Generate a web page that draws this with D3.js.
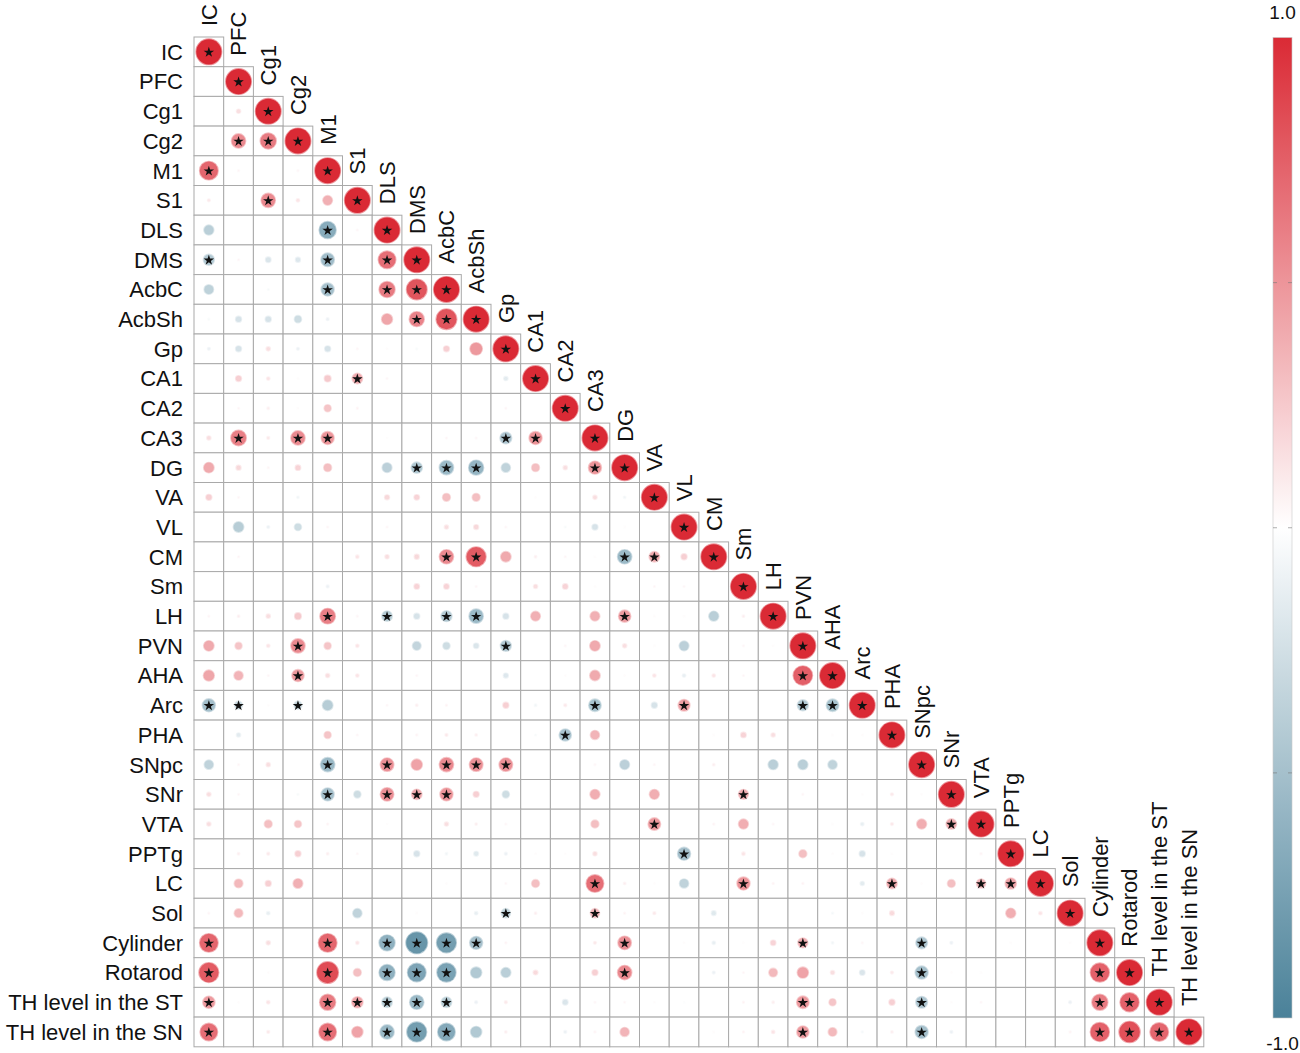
<!DOCTYPE html>
<html>
<head>
<meta charset="utf-8">
<script src="https://cdn.jsdelivr.net/npm/d3@7"></script>
<style>
  body { margin: 0; background: #fff; }
  text { font-family: "Liberation Sans", Arial, sans-serif; fill: #111; }
</style>
</head>
<body>
<div id="chart"></div>
<script>
const variables = ["IC", "PFC", "Cg1", "Cg2", "M1", "S1", "DLS", "DMS", "AcbC", "AcbSh",
  "Gp", "CA1", "CA2", "CA3", "DG", "VA", "VL", "CM", "Sm", "LH", "PVN", "AHA", "Arc",
  "PHA", "SNpc", "SNr", "VTA", "PPTg", "LC", "Sol", "Cylinder", "Rotarod",
  "TH level in the ST", "TH level in the SN"];

// lower triangle, row i holds r with columns 0..i-1 (diagonal is 1)
const corrRows = [
  [],
  [0],
  [0, 0.15],
  [0, 0.55, 0.62],
  [0.72, 0.05, 0, 0.05],
  [0.1, 0, 0.55, 0.12, 0.37],
  [-0.38, 0, 0, 0, -0.66, 0.05],
  [-0.42, 0.05, -0.2, -0.18, -0.52, 0, 0.68],
  [-0.36, 0, -0.05, 0, -0.5, 0, 0.62, 0.8],
  [-0.05, -0.22, -0.22, -0.27, -0.1, 0, 0.42, 0.58, 0.8],
  [-0.1, -0.22, 0.15, -0.1, -0.22, 0.05, 0.03, -0.05, 0.22, 0.48],
  [0, 0.22, 0.12, 0.03, 0.25, 0.4, 0.05, 0, 0, 0, -0.15],
  [0, 0.05, 0.08, 0.03, 0.27, 0.06, 0, 0, 0, 0, 0.05, 0],
  [0.15, 0.6, 0.1, 0.55, 0.5, 0, 0.03, 0, 0.05, 0.05, -0.45, 0.5, 0],
  [0.4, 0.18, 0.05, 0.2, 0.3, 0, -0.37, -0.43, -0.55, -0.58, -0.35, 0.3, 0.15, 0.5],
  [0.22, 0.05, 0, -0.08, 0, 0, 0.18, 0.2, 0.3, 0.3, 0, 0.03, 0, 0.15, -0.08],
  [0, -0.4, -0.1, -0.27, 0.05, 0, 0.05, 0, 0.15, 0.18, 0.05, 0, -0.05, -0.22, 0.03, 0],
  [0, 0.05, 0, 0, 0, 0.12, 0.15, 0.18, 0.55, 0.77, 0.4, 0.08, 0.05, 0.03, -0.55, 0.4, 0.22],
  [0, 0, 0, 0, -0.1, 0, 0, 0.2, 0.2, 0.05, 0, 0.15, 0.2, 0.03, 0, 0.05, 0.05, 0],
  [0.05, 0.08, 0.15, 0.25, 0.6, 0.05, -0.4, -0.22, -0.42, -0.55, -0.22, 0.37, 0, 0.37, 0.47, 0.03, 0.03, -0.38, 0.08],
  [0.4, 0.27, 0.12, 0.55, 0.27, 0.12, 0, -0.33, -0.27, -0.2, -0.42, 0, 0.05, 0.4, 0.15, 0.03, -0.37, 0, 0.05, 0.03],
  [0.42, 0.35, 0.05, 0.47, 0.15, 0.12, 0, 0.05, 0, 0, -0.18, 0, 0.03, 0.4, 0.03, 0.12, -0.12, 0.12, 0.05, 0, 0.75],
  [-0.5, -0.3, 0.03, -0.3, -0.4, 0, 0.05, 0.08, 0.06, 0, 0.22, -0.08, 0.1, -0.48, 0, -0.22, 0.45, 0, 0, 0, -0.42, -0.48],
  [0, -0.15, 0, 0, 0.27, 0.05, 0, 0.06, 0.1, 0.08, 0, -0.05, -0.47, 0.35, 0, 0, 0, 0.03, 0.2, 0.15, 0, 0.03, 0.03],
  [-0.35, 0.05, 0.15, 0, -0.55, 0, 0.52, 0.43, 0.55, 0.52, 0.52, 0, 0, 0.05, -0.37, 0.05, 0, 0.08, 0, -0.38, -0.38, -0.35, 0, 0],
  [0.15, 0.05, 0, -0.05, -0.5, -0.27, 0.52, 0.4, 0.5, 0.22, -0.27, 0, 0, 0.38, 0, 0.38, 0, 0, 0.38, 0, 0.05, 0, 0.03, 0.1, 0.03],
  [0.15, 0, 0.3, 0.27, 0.06, 0, 0.03, 0, 0.15, 0.08, 0.05, 0, 0, 0.3, 0, 0.48, 0, 0.06, 0.38, 0.05, 0, 0.03, -0.12, 0.1, 0.38, 0.4],
  [0, 0.08, 0.1, 0.22, 0.08, 0.05, 0, -0.22, -0.08, -0.17, -0.1, 0.03, 0.03, 0.15, 0, 0, -0.5, 0, 0.12, 0, 0.3, 0.03, -0.22, 0.03, 0, 0, 0.06],
  [0, 0.33, 0.22, 0.37, 0, 0, 0, 0, 0.03, 0, 0.05, 0.3, 0, 0.68, 0.08, 0.03, -0.35, 0, 0.5, 0.06, 0.06, 0, -0.15, 0.4, 0.03, 0.3, 0.35, 0.43],
  [0.05, 0.33, -0.12, 0, 0, -0.35, 0, 0.03, 0, -0.12, -0.35, 0.08, 0, 0.35, 0.06, 0.1, 0, -0.17, 0, 0, 0, -0.06, 0.03, 0.17, 0, 0, 0, 0.38, 0.12],
  [0.72, 0, 0.15, 0, 0.72, 0.12, -0.62, -0.84, -0.77, -0.5, 0.06, 0, 0, 0.1, 0.52, 0, 0.03, -0.12, 0.03, 0.2, 0.38, -0.08, 0.05, 0, -0.45, -0.1, 0, 0.03, 0, 0.03],
  [0.77, 0, 0.03, 0, 0.84, 0.3, -0.62, -0.72, -0.74, -0.43, -0.38, 0.17, 0, 0.22, 0.55, 0, 0, -0.1, 0.05, 0.33, 0.43, 0.15, -0.2, 0.1, -0.5, 0.03, 0.03, 0, 0, 0, 0.74],
  [0.47, 0.03, 0.12, 0, 0.62, 0.43, -0.4, -0.55, -0.4, -0.1, 0.1, 0, -0.2, 0.05, 0.05, 0.03, -0.03, 0, 0.06, 0.08, 0.48, 0.27, 0, 0.22, -0.45, 0.03, 0.05, 0, 0, -0.1, 0.62, 0.74],
  [0.68, 0, 0.1, 0, 0.68, 0.43, -0.55, -0.77, -0.68, -0.43, 0.08, 0, -0.1, 0.06, 0.35, 0, 0, 0.03, 0.06, 0.12, 0.47, 0.33, -0.06, 0.08, -0.5, -0.1, 0.03, 0, 0, 0.06, 0.74, 0.82, 0.72]
];

// columns with a significance star, per row (diagonal always starred)
const sigRows = [
  [], [], [], [1, 2], [0], [2], [4], [0, 4, 6], [4, 6, 7], [7, 8], [], [5], [],
  [1, 3, 4, 10, 11], [7, 8, 9, 13], [], [], [8, 9, 14, 15], [], [4, 6, 8, 9, 14],
  [3, 10], [3, 20], [0, 1, 3, 13, 16, 20, 21], [12], [4, 6, 8, 9, 10],
  [4, 6, 7, 8, 18], [15, 25], [16], [13, 18, 23, 26, 27], [10, 13],
  [0, 4, 6, 7, 8, 9, 14, 20, 24], [0, 4, 6, 7, 8, 14, 24, 30],
  [0, 4, 5, 6, 7, 8, 20, 24, 30, 31], [0, 4, 6, 7, 8, 20, 24, 30, 31, 32]
];

const legendTicks = [-1, -0.5, 0, 0.5, 1];
const legendLabels = [{ v: 1, label: "1.0" }, { v: -1, label: "-1.0" }];

const WIDTH = 1300, HEIGHT = 1053,
  GRID_LEFT = 194, GRID_TOP = 37, CELL = 29.7,
  MAX_R = 12.6, LABEL_GAP = 11, FONT = 22;

const svg = d3.select("#chart").append("svg")
  .attr("width", WIDTH).attr("height", HEIGHT);

const x = d3.scaleBand().domain(variables)
  .range([GRID_LEFT, GRID_LEFT + CELL * variables.length]);
const y = d3.scaleBand().domain(variables)
  .range([GRID_TOP, GRID_TOP + CELL * variables.length]);

const color = d3.scaleLinear()
  .domain([-1, 0, 1])
  .range(["#4a8199", "#ffffff", "#da2a35"])
  .interpolate(d3.interpolateRgb);

// flatten the triangle
const cells = [];
corrRows.forEach(function(row, i) {
  row.forEach(function(r, j) {
    cells.push({ row: variables[i], col: variables[j], r: r, sig: sigRows[i].includes(j) });
  });
  cells.push({ row: variables[i], col: variables[i], r: 1, sig: true });
});

const grid = svg.append("g");

grid.selectAll("rect")
  .data(cells)
  .enter()
  .append("rect")
  .attr("x", d => x(d.col))
  .attr("y", d => y(d.row))
  .attr("width", x.bandwidth())
  .attr("height", y.bandwidth())
  .attr("fill", "#fff")
  .attr("stroke", "#a9a9a9")
  .attr("stroke-width", 1);

grid.selectAll("circle")
  .data(cells.filter(d => Math.abs(d.r) > 0.001))
  .enter()
  .append("circle")
  .attr("cx", d => x(d.col) + x.bandwidth() / 2)
  .attr("cy", d => y(d.row) + y.bandwidth() / 2)
  .attr("r", d => Math.abs(d.r) * MAX_R)
  .attr("fill", d => color(d.r))
  .attr("stroke", d => color(d.r))
  .attr("stroke-opacity", 0.5)
  .attr("stroke-width", 1.8);

const star = d3.symbol().type(d3.symbolStar).size(34);
grid.selectAll("path.star")
  .data(cells.filter(d => d.sig))
  .enter()
  .append("path")
  .attr("class", "star")
  .attr("d", star)
  .attr("fill", "#111")
  .attr("transform", d =>
    "translate(" + (x(d.col) + x.bandwidth() / 2) + "," + (y(d.row) + y.bandwidth() / 2 + 0.5) + ")");

// row labels on the left
svg.append("g").selectAll("text")
  .data(variables)
  .enter()
  .append("text")
  .attr("x", GRID_LEFT - LABEL_GAP)
  .attr("y", d => y(d) + y.bandwidth() / 2)
  .attr("dy", "0.36em")
  .attr("text-anchor", "end")
  .attr("font-size", FONT)
  .text(d => d);

// column labels, standing on the diagonal cells
svg.append("g").selectAll("text")
  .data(variables)
  .enter()
  .append("text")
  .attr("transform", d =>
    "translate(" + (x(d) + x.bandwidth() / 2) + "," + (y(d) - LABEL_GAP) + ") rotate(-90)")
  .attr("dy", "0.36em")
  .attr("text-anchor", "start")
  .attr("font-size", FONT)
  .text(d => d);

// colour bar
const BAR_X = 1273, BAR_W = 19;
const barY = d3.scaleLinear().domain([-1, 1]).range([1018, 37.5]);

const grad = svg.append("defs").append("linearGradient")
  .attr("id", "corr-grad")
  .attr("x1", 0).attr("y1", 1).attr("x2", 0).attr("y2", 0);
d3.range(-1, 1.001, 0.1).forEach(function(v) {
  grad.append("stop")
    .attr("offset", ((v + 1) / 2 * 100) + "%")
    .attr("stop-color", color(v));
});

svg.append("rect")
  .attr("x", BAR_X)
  .attr("y", barY(1))
  .attr("width", BAR_W)
  .attr("height", barY(-1) - barY(1))
  .attr("fill", "url(#corr-grad)")
  .attr("stroke", "#c8c8c8")
  .attr("stroke-width", 0.6);

const tickG = svg.append("g");
legendTicks.filter(v => Math.abs(v) < 1).forEach(function(v) {
  [[BAR_X, BAR_X + 4], [BAR_X + BAR_W - 4, BAR_X + BAR_W]].forEach(function(seg) {
    tickG.append("line")
      .attr("x1", seg[0]).attr("x2", seg[1])
      .attr("y1", barY(v)).attr("y2", barY(v))
      .attr("stroke", "#777")
      .attr("stroke-opacity", 0.6)
      .attr("stroke-width", 1);
  });
});

svg.append("g").selectAll("text")
  .data(legendLabels)
  .enter()
  .append("text")
  .attr("x", BAR_X + BAR_W / 2)
  .attr("y", d => d.v > 0 ? 18.5 : 1050)
  .attr("text-anchor", "middle")
  .attr("font-size", 19)
  .text(d => d.label);
</script>
</body>
</html>
